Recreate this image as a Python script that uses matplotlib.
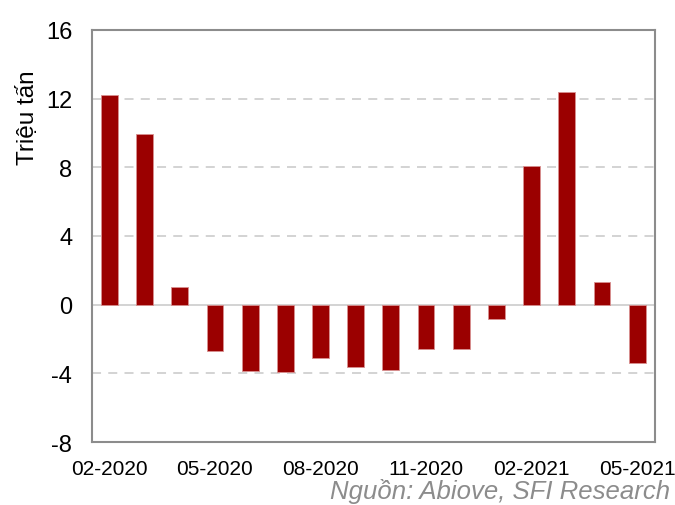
import numpy as np
import matplotlib.pyplot as plt

plt.rcParams['font.family'] = ['Liberation Sans', 'DejaVu Sans']

months = ['02-2020', '03-2020', '04-2020', '05-2020', '06-2020', '07-2020',
          '08-2020', '09-2020', '10-2020', '11-2020', '12-2020', '01-2021',
          '02-2021', '03-2021', '04-2021', '05-2021']
values = [12.2, 9.95, 1.05, -2.7, -3.85, -3.95, -3.1, -3.65, -3.8, -2.6,
          -2.6, -0.85, 8.05, 12.4, 1.3, -3.4]
yticks = [-8, -4, 0, 4, 8, 12, 16]

fig = plt.figure(figsize=(6.75, 5.06), dpi=100)
ax = fig.add_axes([0.136, 0.1245, 0.834, 0.8145])

x = np.arange(len(months))
ax.bar(x, values, width=0.48, color='#9b0000', edgecolor='#d89090',
       linewidth=0.6, zorder=3)

ax.set_xlim(-0.5, len(months) - 0.5)
ax.set_ylim(-8, 16)
ax.set_yticks(yticks)
ax.set_yticklabels([str(t) for t in yticks], fontsize=17)
ax.set_xticks(x[::3])
ax.set_xticklabels(months[::3], fontsize=15)
ax.tick_params(axis='both', length=0)
ax.tick_params(axis='y', pad=14)
ax.tick_params(axis='x', pad=12)

for t in [4, 8, 12, -4]:
    ax.axhline(t, color='#d0d0d0', lw=1.3, ls=(0, (5, 4)), zorder=1)
ax.axhline(0, color='#d0d0d0', lw=1.3, zorder=2)

for s in ax.spines.values():
    s.set_color('#8c8c8c')
    s.set_linewidth(1.5)

ax.set_ylabel('Triệu tấn', fontsize=17.5)
ax.yaxis.set_label_coords(-0.093, 0.79)

fig.text(0.993, 0.003, 'Nguồn: Abiove, SFI Research', ha='right', va='bottom',
         fontsize=18.5, style='italic', color='#8c8c8c')

fig.savefig('out.png', dpi=100)
